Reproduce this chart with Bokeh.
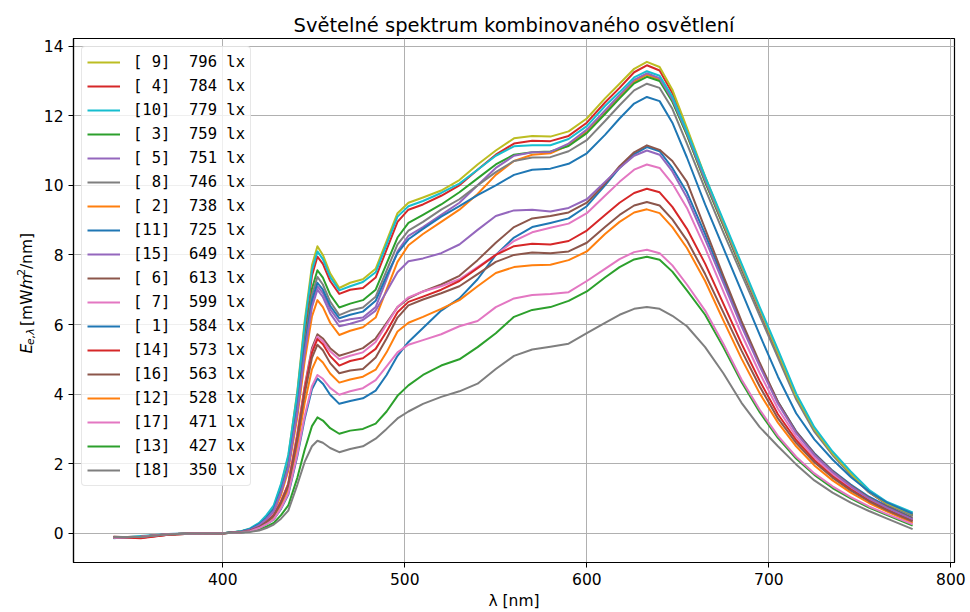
import math
from bokeh.plotting import figure
from bokeh.layouts import row
from bokeh.models import Range1d, FixedTicker, Legend, LegendItem, Label
from bokeh.embed import file_html
from bokeh.resources import INLINE

# ---------------- data ----------------
wavelength = [340, 355, 370, 385, 400, 410, 415, 420, 424, 428, 432,
              436, 441, 445, 449, 452, 455, 459, 464,
              470, 477, 484, 490, 496, 502,
              510, 520, 530, 540, 550, 560, 570, 580, 590, 600,
              610, 618, 626, 633, 640, 647, 655,
              665, 675, 685, 695, 705, 715, 725, 735, 745, 755, 765, 779]

s1 = [-0.13, -0.11, -0.03, -0.01, 0.00, 0.02, 0.06, 0.15, 0.26, 0.40, 0.70,
      1.11, 2.23, 3.29, 4.14, 4.45, 4.30, 3.98, 3.72,
      3.80, 3.88, 4.10, 4.55, 5.10, 5.50,
      5.90, 6.40, 6.75, 7.30, 8.00, 8.50, 8.80, 8.92, 9.05, 9.40,
      10.00, 10.50, 10.90, 11.10, 10.98, 10.50, 9.80,
      8.60, 7.30, 6.00, 4.85, 3.78, 2.93, 2.30, 1.80, 1.40, 1.05, 0.78, 0.45]
s2 = [-0.12, -0.09, -0.03, 0.00, 0.00, 0.04, 0.10, 0.22, 0.38, 0.60, 1.10,
      1.80, 3.35, 4.95, 6.23, 6.70, 6.50, 6.05, 5.70,
      5.82, 5.92, 6.20, 7.00, 7.80, 8.28,
      8.60, 8.95, 9.30, 9.75, 10.30, 10.70, 10.88, 10.92, 11.15, 11.55,
      12.10, 12.55, 12.98, 13.18, 13.05, 12.45, 11.45,
      10.10, 8.85, 7.60, 6.38, 5.15, 3.92, 2.98, 2.28, 1.70, 1.20, 0.85, 0.50]
s3 = [-0.11, -0.10, -0.03, -0.01, 0.00, 0.05, 0.12, 0.26, 0.45, 0.70, 1.28,
      2.05, 3.78, 5.60, 7.03, 7.56, 7.35, 6.86, 6.49,
      6.60, 6.70, 7.00, 7.75, 8.50, 8.92,
      9.15, 9.45, 9.80, 10.20, 10.60, 10.88, 10.95, 10.97, 11.13, 11.50,
      12.05, 12.50, 12.93, 13.12, 13.00, 12.40, 11.45,
      10.10, 8.85, 7.60, 6.38, 5.15, 3.92, 2.98, 2.28, 1.70, 1.20, 0.85, 0.52]
s4 = [-0.10, -0.13, -0.04, -0.01, 0.00, 0.05, 0.12, 0.27, 0.46, 0.72, 1.32,
      2.10, 3.95, 5.90, 7.40, 7.95, 7.74, 7.25, 6.88,
      7.00, 7.05, 7.35, 8.15, 8.95, 9.30,
      9.45, 9.70, 10.00, 10.45, 10.88, 11.20, 11.28, 11.27, 11.42, 11.80,
      12.38, 12.80, 13.25, 13.45, 13.30, 12.65, 11.60,
      10.20, 8.90, 7.65, 6.40, 5.15, 3.92, 2.98, 2.28, 1.70, 1.18, 0.83, 0.52]
s5 = [-0.13, -0.11, -0.03, -0.01, 0.00, 0.04, 0.11, 0.24, 0.42, 0.66, 1.19,
      1.90, 3.55, 5.25, 6.60, 7.10, 6.90, 6.44, 6.08,
      6.15, 6.20, 6.50, 7.30, 8.10, 8.55,
      8.80, 9.15, 9.50, 10.00, 10.50, 10.85, 10.95, 10.96, 11.20, 11.60,
      12.15, 12.60, 13.03, 13.22, 13.08, 12.47, 11.50,
      10.15, 8.90, 7.65, 6.42, 5.20, 3.95, 3.00, 2.30, 1.72, 1.22, 0.87, 0.56]
s6 = [-0.11, -0.12, -0.03, -0.01, 0.00, 0.03, 0.09, 0.20, 0.35, 0.55, 0.92,
      1.43, 2.86, 4.23, 5.32, 5.72, 5.60, 5.32, 5.10,
      5.20, 5.32, 5.60, 6.05, 6.50, 6.75,
      6.95, 7.15, 7.40, 7.85, 8.35, 8.80, 9.05, 9.12, 9.22, 9.50,
      10.05, 10.55, 10.95, 11.15, 11.02, 10.70, 10.10,
      8.75, 7.40, 6.10, 4.90, 3.78, 2.92, 2.28, 1.78, 1.37, 1.02, 0.75, 0.42]
s7 = [-0.12, -0.09, -0.03, -0.01, 0.00, 0.03, 0.09, 0.20, 0.35, 0.55, 0.91,
      1.41, 2.83, 4.18, 5.25, 5.65, 5.52, 5.23, 5.00,
      5.10, 5.20, 5.50, 6.00, 6.50, 6.78,
      6.95, 7.10, 7.30, 7.65, 8.00, 8.40, 8.65, 8.78, 8.90, 9.20,
      9.70, 10.10, 10.45, 10.60, 10.50, 10.05, 9.35,
      8.20, 6.95, 5.72, 4.60, 3.58, 2.78, 2.18, 1.70, 1.30, 0.97, 0.70, 0.38]
s8 = [-0.10, -0.12, -0.04, -0.01, 0.00, 0.04, 0.11, 0.25, 0.44, 0.68, 1.25,
      2.00, 3.68, 5.45, 6.85, 7.37, 7.15, 6.66, 6.27,
      6.40, 6.49, 6.80, 7.55, 8.30, 8.70,
      8.95, 9.30, 9.60, 10.00, 10.38, 10.70, 10.80, 10.81, 10.98, 11.30,
      11.85, 12.30, 12.73, 12.92, 12.80, 12.20, 11.20,
      9.90, 8.65, 7.45, 6.25, 5.05, 3.85, 2.92, 2.25, 1.68, 1.18, 0.84, 0.50]
s9 = [-0.12, -0.10, -0.03, -0.01, 0.00, 0.05, 0.13, 0.28, 0.48, 0.75, 1.38,
      2.20, 4.10, 6.10, 7.70, 8.25, 8.00, 7.47, 7.05,
      7.20, 7.30, 7.60, 8.40, 9.20, 9.50,
      9.65, 9.85, 10.15, 10.60, 11.00, 11.35, 11.42, 11.40, 11.55, 11.92,
      12.50, 12.92, 13.35, 13.55, 13.40, 12.75, 11.65,
      10.25, 8.95, 7.70, 6.45, 5.20, 3.95, 3.00, 2.30, 1.72, 1.20, 0.85, 0.55]
s10 = [-0.14, -0.08, -0.02, 0.00, 0.00, 0.06, 0.14, 0.30, 0.52, 0.80, 1.42,
       2.25, 4.05, 6.00, 7.55, 8.10, 7.88, 7.37, 6.98,
       7.10, 7.22, 7.50, 8.30, 9.10, 9.40,
       9.55, 9.78, 10.05, 10.45, 10.85, 11.12, 11.15, 11.15, 11.33, 11.70,
       12.28, 12.68, 13.10, 13.28, 13.15, 12.55, 11.55,
       10.25, 9.00, 7.75, 6.50, 5.28, 4.02, 3.05, 2.35, 1.78, 1.25, 0.90, 0.60]
s11 = [-0.12, -0.10, -0.03, -0.01, 0.00, 0.05, 0.12, 0.26, 0.45, 0.70, 1.24,
       1.95, 3.60, 5.33, 6.70, 7.20, 7.00, 6.54, 6.18,
       6.28, 6.37, 6.68, 7.40, 8.05, 8.45,
       8.75, 9.10, 9.40, 9.72, 10.00, 10.30, 10.45, 10.48, 10.62, 10.92,
       11.45, 11.92, 12.35, 12.54, 12.42, 11.80, 10.80,
       9.45, 8.20, 6.95, 5.70, 4.50, 3.45, 2.70, 2.12, 1.62, 1.20, 0.88, 0.56]
s12 = [-0.12, -0.11, -0.03, -0.01, 0.00, 0.03, 0.08, 0.17, 0.30, 0.47, 0.82,
       1.27, 2.53, 3.74, 4.71, 5.06, 4.91, 4.59, 4.33,
       4.42, 4.50, 4.70, 5.20, 5.80, 6.05,
       6.22, 6.45, 6.70, 7.10, 7.48, 7.65, 7.70, 7.72, 7.85, 8.10,
       8.60, 8.95, 9.22, 9.31, 9.20, 8.80, 8.20,
       7.25, 6.12, 5.02, 4.02, 3.18, 2.50, 1.95, 1.52, 1.17, 0.87, 0.62, 0.30]
s13 = [-0.12, -0.10, -0.03, -0.01, 0.00, 0.02, 0.05, 0.10, 0.19, 0.30, 0.52,
       0.80, 1.60, 2.40, 3.08, 3.33, 3.24, 3.02, 2.86,
       2.95, 3.00, 3.15, 3.50, 3.95, 4.25,
       4.55, 4.82, 5.00, 5.35, 5.75, 6.22, 6.42, 6.50, 6.68, 6.95,
       7.35, 7.65, 7.87, 7.95, 7.86, 7.52, 6.98,
       6.28, 5.35, 4.35, 3.48, 2.74, 2.15, 1.68, 1.30, 1.00, 0.74, 0.52, 0.22]
s14 = [-0.11, -0.14, -0.04, -0.01, 0.00, 0.03, 0.08, 0.19, 0.33, 0.52, 0.90,
       1.40, 2.79, 4.13, 5.19, 5.58, 5.43, 5.09, 4.82,
       4.95, 5.03, 5.30, 5.80, 6.35, 6.65,
       6.80, 7.00, 7.25, 7.62, 8.00, 8.25, 8.32, 8.30, 8.40, 8.70,
       9.15, 9.50, 9.78, 9.90, 9.80, 9.38, 8.75,
       7.75, 6.60, 5.45, 4.38, 3.42, 2.68, 2.10, 1.64, 1.26, 0.94, 0.68, 0.36]
s15 = [-0.13, -0.10, -0.02, -0.01, 0.00, 0.04, 0.10, 0.23, 0.41, 0.64, 1.18,
       1.89, 3.50, 5.18, 6.50, 7.00, 6.79, 6.32, 5.95,
       6.02, 6.13, 6.40, 6.95, 7.50, 7.82,
       7.90, 8.05, 8.30, 8.72, 9.12, 9.28, 9.30, 9.25, 9.35, 9.60,
       10.10, 10.50, 10.85, 11.00, 10.88, 10.40, 9.65,
       8.45, 7.20, 5.95, 4.80, 3.72, 2.88, 2.25, 1.76, 1.35, 1.00, 0.73, 0.40]
s16 = [-0.12, -0.10, -0.03, -0.01, 0.00, 0.03, 0.08, 0.18, 0.32, 0.50, 0.88,
       1.36, 2.71, 4.01, 5.04, 5.42, 5.26, 4.89, 4.60,
       4.68, 4.72, 5.05, 5.60, 6.20, 6.55,
       6.72, 6.90, 7.10, 7.45, 7.80, 8.00, 8.07, 8.05, 8.10, 8.35,
       8.80, 9.15, 9.42, 9.52, 9.42, 9.02, 8.42,
       7.45, 6.35, 5.25, 4.22, 3.30, 2.60, 2.04, 1.60, 1.23, 0.92, 0.66, 0.34]
s17 = [-0.13, -0.10, -0.03, -0.01, 0.00, 0.02, 0.06, 0.15, 0.26, 0.40, 0.72,
       1.14, 2.28, 3.37, 4.23, 4.55, 4.44, 4.18, 3.98,
       4.08, 4.17, 4.40, 4.80, 5.20, 5.42,
       5.55, 5.72, 5.95, 6.10, 6.50, 6.75, 6.85, 6.88, 6.93, 7.25,
       7.60, 7.88, 8.08, 8.15, 8.05, 7.70, 7.15,
       6.40, 5.45, 4.42, 3.55, 2.80, 2.20, 1.72, 1.35, 1.04, 0.77, 0.55, 0.26]
s18 = [-0.11, -0.11, -0.03, -0.01, 0.00, 0.02, 0.04, 0.08, 0.15, 0.25, 0.42,
       0.65, 1.40, 2.05, 2.50, 2.66, 2.60, 2.45, 2.33,
       2.42, 2.50, 2.72, 3.00, 3.30, 3.50,
       3.72, 3.92, 4.08, 4.30, 4.72, 5.10, 5.28, 5.36, 5.45, 5.75,
       6.05, 6.28, 6.45, 6.50, 6.45, 6.25, 5.95,
       5.35, 4.60, 3.75, 3.05, 2.50, 1.98, 1.52, 1.17, 0.88, 0.64, 0.42, 0.12]

series = [s1, s2, s3, s4, s5, s6, s7, s8, s9, s10, s11, s12, s13, s14, s15, s16, s17, s18]
sample_ids = [1, 2, 3, 4, 5, 6, 7, 8, 9, 10, 11, 12, 13, 14, 15, 16, 17, 18]
lux = [584, 738, 759, 784, 751, 613, 599, 746, 796, 779, 725, 528, 427, 573, 649, 563, 471, 350]

x_ticks = [400, 500, 600, 700, 800]
y_ticks = [0, 2, 4, 6, 8, 10, 12, 14]

title_text = "Světelné spektrum kombinovaného osvětlení"
x_label = "λ [nm]"

tab10 = ["#1f77b4", "#ff7f0e", "#2ca02c", "#d62728", "#9467bd",
         "#8c564b", "#e377c2", "#7f7f7f", "#bcbd22", "#17becf"]

# ---------------- layout constants ----------------
XMIN, XMAX = 318.0, 802.0
YMIN, YMAX = -0.84, 14.22
H = 612
LW = 36                     # width of the strip that carries the y label
W = 970 - LW
ML, MR, MT, MB = 73 - LW, 16, 38, 49
BASE_FS = 15.5

# ---------------- main figure ----------------
p = figure(width=W, height=H, x_range=Range1d(XMIN, XMAX), y_range=Range1d(YMIN, YMAX),
           output_backend="svg", toolbar_location=None,
           min_border_left=ML, min_border_right=MR, min_border_top=MT, min_border_bottom=MB)
p.background_fill_color = "white"
p.border_fill_color = "white"
p.outline_line_color = "black"
p.outline_line_width = 1.2

p.title.text = title_text
p.title.align = "center"
p.title.text_font = "DejaVu Sans"
p.title.text_font_size = "19.5px"
p.title.text_font_style = "normal"
p.title.text_color = "black"
p.title.standoff = 4

for ax in (p.xaxis, p.yaxis):
    ax.major_label_text_font = "DejaVu Sans"
    ax.major_label_text_font_size = "%.1fpx" % BASE_FS
    ax.major_label_text_color = "black"
    ax.major_tick_out = 5
    ax.major_tick_in = 0
    ax.minor_tick_out = 0
    ax.minor_tick_in = 0
    ax.major_tick_line_color = "black"
    ax.axis_line_color = "black"
    ax.axis_line_width = 1.2
    ax.major_label_standoff = 5

p.xaxis.ticker = FixedTicker(ticks=x_ticks)
p.yaxis.ticker = FixedTicker(ticks=y_ticks)
p.xaxis.axis_label = x_label
p.xaxis.axis_label_text_font = "DejaVu Sans"
p.xaxis.axis_label_text_font_size = "%.1fpx" % BASE_FS
p.xaxis.axis_label_text_font_style = "normal"
p.xaxis.axis_label_text_color = "black"
p.xaxis.axis_label_standoff = 4

p.grid.grid_line_color = "#b0b0b0"
p.grid.grid_line_width = 1
p.xgrid.ticker = FixedTicker(ticks=x_ticks)
p.ygrid.ticker = FixedTicker(ticks=y_ticks)

renderers = {}
for i, (sid, ys) in enumerate(zip(sample_ids, series)):
    r = p.line(wavelength, ys, line_color=tab10[i % 10], line_width=2, line_join="round")
    renderers[sid] = r

order = sorted(range(len(sample_ids)), key=lambda k: -lux[k])
items = [LegendItem(label="[%2d]  %3d lx" % (sample_ids[k], lux[k]), renderers=[renderers[sample_ids[k]]])
         for k in order]
legend = Legend(items=items, location="top_left", margin=8, padding=5, spacing=4,
                glyph_width=33, glyph_height=20, label_height=20, label_standoff=13,
                label_text_font="DejaVu Sans Mono", label_text_font_size="15.5px",
                label_text_color="black",
                border_line_color="#d0d0d0", border_line_width=1,
                background_fill_color="white", background_fill_alpha=0.8)
try:
    legend.border_radius = 4
except Exception:
    pass
p.add_layout(legend)

# ---------------- y label strip: E_{e,λ} [mW/m²/nm] ----------------
lf = figure(width=LW, height=H, x_range=Range1d(0, LW), y_range=Range1d(0, H),
            output_backend="svg", toolbar_location=None,
            x_axis_location=None, y_axis_location=None,
            min_border_left=0, min_border_right=0, min_border_top=0, min_border_bottom=0)
lf.title.visible = False
lf.grid.visible = False
lf.outline_line_color = None
lf.background_fill_color = "white"
lf.border_fill_color = "white"

fs = BASE_FS
fss = fs * 0.7
# (text, font size, style, baseline shift px (+ = down in text), advance em, leading gap em)
pieces = [("E", fs, "italic", 0.0, 0.632, 0.0),
          ("e,λ", fss, "italic", 3.5, 1.525, 0.02),
          ("[mW/", fs, "normal", 0.0, 2.69, 0.36),
          ("m", fs, "italic", 0.0, 0.974, 0.10),
          ("2", fss, "normal", -6.0, 0.636, 0.02),
          ("/nm]", fs, "normal", 0.0, 2.335, 0.06)]
total_px = sum((adv + gap) * size for _, size, _, _, adv, gap in pieces)
frame_center_page_y = MT + (H - MT - MB) / 2.0
y_start = (H - frame_center_page_y) - total_px / 2.0
base_x = 26.0
pos = y_start
for text, size, style, shift, adv, gap in pieces:
    pos += gap * size
    lab = Label(x=base_x + shift, y=pos, x_units="data", y_units="data",
                text=text, angle=math.pi / 2,
                text_align="left", text_baseline="alphabetic",
                text_font="DejaVu Sans", text_font_size="%.1fpx" % size,
                text_font_style=style, text_color="black")
    lf.add_layout(lab)
    pos += adv * size

layout = row(lf, p)
open("out.html", "w").write(file_html(layout, INLINE))
